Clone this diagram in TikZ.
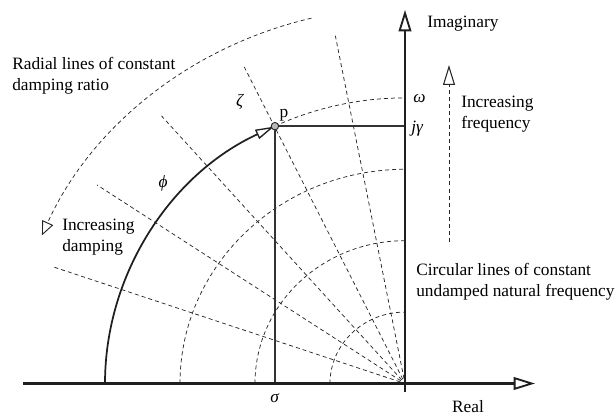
\documentclass[tikz,border=0pt]{standalone}
\usepackage{fontspec}
\setmainfont{Liberation Serif}
\usetikzlibrary{arrows.meta}
\begin{document}
\begin{tikzpicture}[x=0.75pt,y=-0.75pt,
  lab/.style={font=\fontsize{13}{15.4}\selectfont, inner sep=0pt, text=black},
  dsh/.style={line width=0.55pt, dash pattern=on 3pt off 2.3pt, draw=black!85},
  axis/.style={line width=1.9pt, draw=black!88},
  phiarc/.style={line width=1.3pt, draw=black!88},
  pline/.style={line width=1pt, draw=black!80},
  ptdot/.style={circle, draw=black!85, line width=0.7pt, fill=gray!55, inner sep=0pt, minimum size=5.6pt},
  axhead/.style={-{Triangle[open, length=16pt, width=9.5pt, line width=1.4pt]}},
  phihead/.style={-{Triangle[open, length=14pt, width=7.5pt, line width=1pt]}},
  dmphead/.style={-{Triangle[open, length=10.5pt, width=9pt, line width=0.7pt]}},
  frqhead/.style={-{Triangle[open, length=15pt, width=9pt, line width=0.8pt]}}]
\useasboundingbox (0,0) rectangle (615,416);

\coordinate (O) at (405,383.5);
\coordinate (realstart) at (23,383.5);
\coordinate (realend) at (535,383.5);
\coordinate (imstart) at (405,392);
\coordinate (imend) at (405,10);

\begin{scope}[shift={(405,383.5)}, yscale=-0.952]
  % radial lines
  \foreach \a in {100.8,115.8,130.9,145.9,160.8}
    \draw[dsh] (\a:5) -- (\a:372);
  % circles
  \foreach \r in {75,150,225}
    \draw[dsh] (180:\r) arc[start angle=180, end angle=90, radius=\r];
  \draw[dsh] (115.7:300) arc[start angle=115.7, end angle=90, radius=300];
  % outer damping arc
  \draw[dsh, dmphead] (103.7:395) arc[start angle=103.7, end angle=156.8, radius=395];
  % phi arc
  \draw[phiarc, phihead] (180:300) arc[start angle=180, end angle=115.9, radius=300];
  \node[ptdot] (p) at (115.7:300) {};
\end{scope}

% lines from p
\draw[pline] (p) -- (p -| O);
\draw[pline] (p) -- (p |- O);

% axes
\draw[axis, axhead] (realstart) -- (realend);
\draw[axis, axhead] (imstart) -- (imend);

% increasing frequency arrow
\coordinate (fbot) at (449,242);
\coordinate (ftop) at (449,65);
\draw[dsh, frqhead] (fbot) -- (ftop);

% labels
\node[lab, anchor=base west] (imag) at (427,28) {Imaginary};
\node[lab, anchor=base] (real) at (468,413) {Real};
\node[lab, anchor=base west] (radial) at (12,70) {\begin{tabular}[t]{@{}l@{}}Radial lines of constant\\damping ratio\end{tabular}};
\node[lab, anchor=base west] (incdamp) at (62,231) {\begin{tabular}[t]{@{}l@{}}Increasing\\damping\end{tabular}};
\node[lab, anchor=base west] (incfreq) at (461,108) {\begin{tabular}[t]{@{}l@{}}Increasing\\frequency\end{tabular}};
\node[lab, anchor=base west] (circ) at (416,276) {\begin{tabular}[t]{@{}l@{}}Circular lines of constant\\undamped natural frequency\end{tabular}};
\node[lab, anchor=west] (omega) at (413,99) {\textit{ω}};
\node[lab, anchor=west] (jgam) at (411,129) {\textit{jγ}};
\node[lab] (sigma) at (275,398) {\textit{σ}};
\node[lab] (zeta) at (240,102) {\textit{ζ}};
\node[lab] (phi) at (163,183) {\textit{ϕ}};
\node[lab] (plab) at (284,115) {p};
\end{tikzpicture}
\end{document}
